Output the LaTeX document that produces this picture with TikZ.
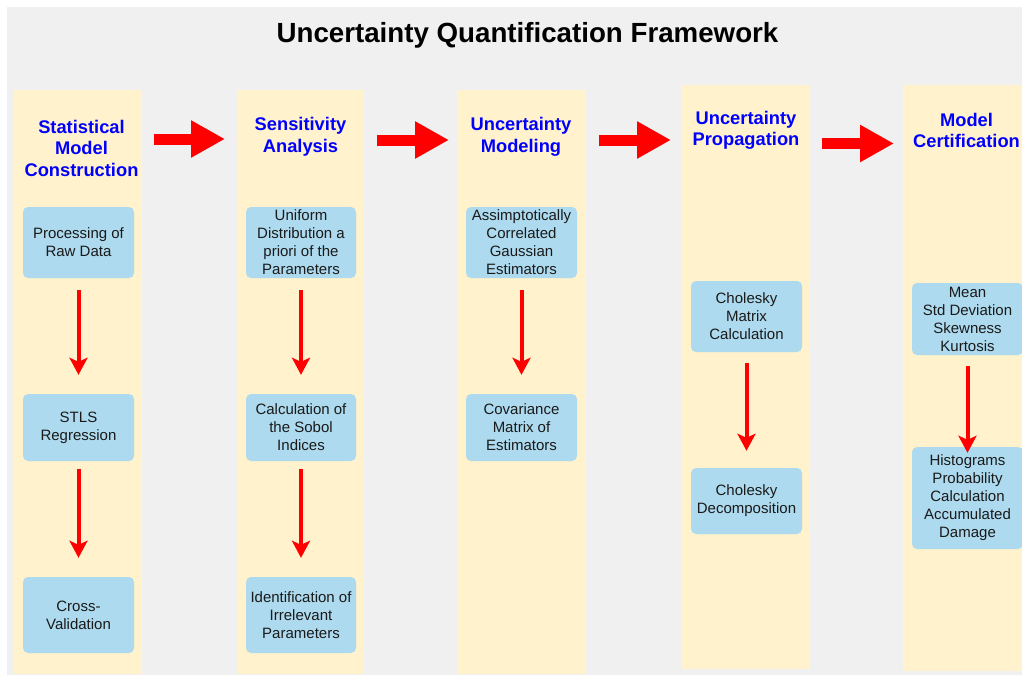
\documentclass[tikz,border=0pt]{standalone}
\usepackage{fontspec}
\setmainfont{Liberation Sans}
\usetikzlibrary{arrows.meta}
\definecolor{bggray}{HTML}{F0F0F0}
\definecolor{cream}{HTML}{FFF2CC}
\definecolor{boxblue}{HTML}{ADDAEE}
\definecolor{hdrblue}{HTML}{0000FF}
\definecolor{arrowred}{HTML}{FF0000}
\definecolor{txtdark}{HTML}{1A1A1A}
\tikzset{
  column/.style={fill=cream, draw=none},
  header/.style={font=\fontsize{18.3}{21.5}\selectfont\bfseries, text=hdrblue, align=center, inner sep=0pt},
  stepbox/.style={fill=boxblue, draw=none, rounded corners=5pt, minimum width=111pt, align=center,
     font=\fontsize{15}{18}\selectfont, text=txtdark, inner sep=0pt},
  vflow/.style={draw=arrowred, line width=4pt, -{Stealth[length=17pt,width=18pt,inset=4pt]}},
  hflow/.style={draw=arrowred, line width=11pt, -{Triangle[length=34pt,width=35pt]}},
}
\begin{document}
\begin{tikzpicture}[x=1pt,y=-1pt]
\useasboundingbox (0,0) rectangle (1022,675);
\fill[bggray] (7,7) rectangle (1022,675);
\node[font=\fontsize{27.7}{30}\selectfont\bfseries, anchor=base] (title) at (527.5,42) {Uncertainty Quantification Framework};
% columns
\fill[column] (14,90) rectangle (142,674);
\fill[column] (237,90) rectangle (364,674);
\fill[column] (457,90) rectangle (586,674);
\fill[column] (682,85) rectangle (810,669);
\fill[column] (903,85) rectangle (1022,671);
% headers
\node[header] (h1) at (81.5,148) {Statistical\\Model\\Construction};
\node[header] (h2) at (300.5,137) {Sensitivity\\Analysis};
\node[header] (h3) at (521,137) {Uncertainty\\Modeling};
\node[header] (h4) at (746,130.5) {Uncertainty\\Propagation};
\node[header] (h5) at (966.5,130.5) {Model\\Certification};
% boxes
\node[stepbox, minimum height=71pt] (b11) at (78.5,242.5) {Processing of\\Raw Data};
\node[stepbox, minimum height=67pt] (b12) at (78.5,427.5) {STLS\\Regression};
\node[stepbox, minimum height=76pt] (b13) at (78.5,615) {Cross-\\Validation};
\node[stepbox, minimum height=71pt, minimum width=110pt] (b21) at (301,242.5) {Uniform\\Distribution a\\priori of the\\Parameters};
\node[stepbox, minimum height=67pt, minimum width=110pt] (b22) at (301,427.5) {Calculation of\\the Sobol\\Indices};
\node[stepbox, minimum height=76pt, minimum width=110pt] (b23) at (301,615) {Identification of\\Irrelevant\\Parameters};
\node[stepbox, minimum height=71pt] (b31) at (521.5,242.5) {Assimptotically\\Correlated\\Gaussian\\Estimators};
\node[stepbox, minimum height=67pt] (b32) at (521.5,427.5) {Covariance\\Matrix of\\Estimators};
\node[stepbox, minimum height=71pt] (b41) at (746.5,316.5) {Cholesky\\Matrix\\Calculation};
\node[stepbox, minimum height=66pt] (b42) at (746.5,501) {Cholesky\\Decomposition};
\node[stepbox, minimum height=72pt] (b51) at (967.5,319) {Mean\\Std Deviation\\Skewness\\Kurtosis};
\node[stepbox, minimum height=102pt] (b52) at (967.5,498) {Histograms\\Probability\\Calculation\\Accumulated\\Damage};
% vertical arrows
\draw[vflow, shorten <=12pt, shorten >=19pt] (b11.south) -- (b12.north);
\draw[vflow, shorten <=8pt, shorten >=19pt] (b12.south) -- (b13.north);
\draw[vflow, shorten <=12pt, shorten >=19pt] (b21.south) -- (b22.north);
\draw[vflow, shorten <=8pt, shorten >=19pt] (b22.south) -- (b23.north);
\draw[vflow, shorten <=12pt, shorten >=19pt] (b31.south) -- (b32.north);
\draw[vflow, shorten <=11pt, shorten >=17pt] (b41.south) -- (b42.north);
\draw[vflow, shorten <=11pt, shorten >=-6pt] (b51.south) -- (b52.north);
% horizontal arrows
\coordinate (a1s) at (154,139); \coordinate (a1e) at (225,139);
\coordinate (a2s) at (377,140); \coordinate (a2e) at (449,140);
\coordinate (a3s) at (599,140); \coordinate (a3e) at (671,140);
\coordinate (a4s) at (822,143.5); \coordinate (a4e) at (894,143.5);
\draw[hflow] (a1s) -- (a1e);
\draw[hflow] (a2s) -- (a2e);
\draw[hflow] (a3s) -- (a3e);
\draw[hflow] (a4s) -- (a4e);
\end{tikzpicture}
\end{document}
